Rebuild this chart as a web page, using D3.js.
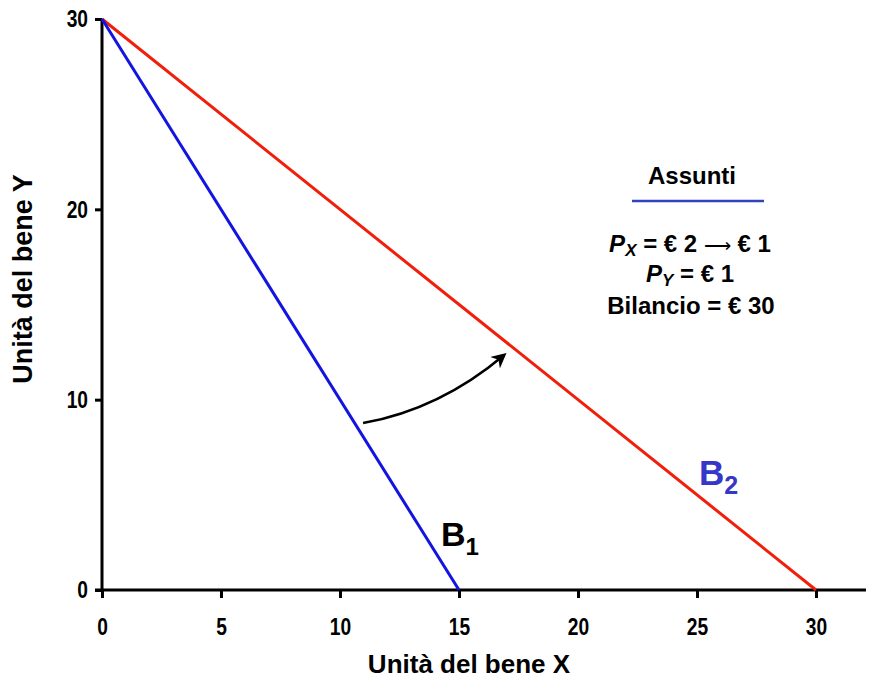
<!DOCTYPE html>
<html><head><meta charset="utf-8">
<script src="https://cdn.jsdelivr.net/npm/d3@7"></script>
<style>
body{margin:0;background:#fff;}
text{font-family:"Liberation Sans",Arial,sans-serif;font-weight:bold;}
</style></head>
<body><svg id="c" width="880" height="681"></svg>
<script>
const xTicks = [0,5,10,15,20,25,30];
const yTicks = [0,10,20,30];
const budget1 = [{x:0,y:30},{x:15,y:0}];   // B1: Px = 2
const budget2 = [{x:0,y:30},{x:30,y:0}];   // B2: Px = 1
const arrowPts = [{x:10.97,y:8.77},{x:14.2,y:9.5},{x:16.9,y:12.35}];
const assumptions = ["Assunti","P_X = € 2 ⟶ € 1","P_Y = € 1","Bilancio = € 30"];
const xMaxAxis = 32.1;

const svg = d3.select("#c");
const x = d3.scaleLinear().domain([0,30]).range([102,816]);
const y = d3.scaleLinear().domain([0,30]).range([590,19]);
const squeeze = 0.8;

// axes
const gx = svg.append("g").attr("transform",`translate(0,${y(0)})`)
  .call(d3.axisBottom(x).tickValues(xTicks).tickSize(8).tickPadding(20).tickSizeOuter(0));
gx.select(".domain").remove();
gx.append("line").attr("x1",x(0)-7).attr("x2",x(xMaxAxis)).attr("stroke","#000").attr("stroke-width",3);
gx.selectAll(".tick line").attr("stroke","#000").attr("stroke-width",3);
gx.selectAll(".tick text").attr("fill","#000").style("font-size","24px")
  .attr("transform",`scale(${squeeze},1)`);

const gy = svg.append("g").attr("transform",`translate(${x(0)},0)`)
  .call(d3.axisLeft(y).tickValues(yTicks).tickSize(7).tickPadding(8).tickSizeOuter(0));
gy.select(".domain").remove();
gy.append("line").attr("y1",y(0)).attr("y2",y(30)).attr("stroke","#000").attr("stroke-width",3);
gy.selectAll(".tick line").attr("stroke","#000").attr("stroke-width",3);
gy.selectAll(".tick text").attr("fill","#000").style("font-size","24px")
  .attr("x",-14/squeeze).attr("transform",`scale(${squeeze},1)`);

svg.append("text").attr("x",469).attr("y",673).attr("text-anchor","middle")
  .style("font-size","26px").text("Unità del bene X");
svg.append("text").attr("transform",`translate(32,279) rotate(-90)`).attr("text-anchor","middle")
  .style("font-size","27px").text("Unità del bene Y");

const line = d3.line().x(d=>x(d.x)).y(d=>y(d.y));
svg.append("path").datum(budget2).attr("d",line).attr("fill","none").attr("stroke","#f01e0a").attr("stroke-width",3);
svg.append("path").datum(budget1).attr("d",line).attr("fill","none").attr("stroke","#1414e0").attr("stroke-width",3);

// arrow
svg.append("defs").append("marker").attr("id","ah").attr("viewBox","0 0 10 10").attr("refX",8).attr("refY",5)
  .attr("markerWidth",6).attr("markerHeight",6).attr("orient","auto").attr("markerUnits","strokeWidth")
  .append("path").attr("d","M0,0 L10,5 L0,10 L3,5 Z").attr("fill","#000");
const [a0,a1,a2] = arrowPts;
svg.append("path").attr("d",`M${x(a0.x)},${y(a0.y)} Q${x(a1.x)},${y(a1.y)} ${x(a2.x)},${y(a2.y)}`)
  .attr("fill","none").attr("stroke","#000").attr("stroke-width",2.5).attr("marker-end","url(#ah)");

// labels
const b1 = svg.append("text").attr("x",441).attr("y",546).style("font-size","34px").attr("fill","#000");
b1.append("tspan").text("B");
b1.append("tspan").attr("dy",9).style("font-size","24px").text("1");
const b2 = svg.append("text").attr("x",699).attr("y",485).style("font-size","35px").attr("fill","#3636c8");
b2.append("tspan").text("B");
b2.append("tspan").attr("dy",9).style("font-size","25px").text("2");

// assumptions
const cx = 690;
svg.append("text").attr("x",cx+2).attr("y",184).attr("text-anchor","middle").style("font-size","24px").text(assumptions[0]);
svg.append("line").attr("x1",632).attr("x2",764).attr("y1",201).attr("y2",201).attr("stroke","#3344bb").attr("stroke-width",2.5);
function sub(t, yy){
  const parts = t.split("_");
  const el = svg.append("text").attr("x",cx).attr("y",yy).attr("text-anchor","middle").style("font-size","24px");
  el.append("tspan").style("font-style","italic").text("P");
  el.append("tspan").attr("dy",4).style("font-size","17px").style("font-style","italic").text(parts[1][0]);
  const rest = parts[1].slice(1).split("⟶");
  el.append("tspan").attr("dy",-4).text(rest[0]);
  if (rest.length > 1) {
    el.append("tspan").style("font-weight","normal").style("font-size","19px").text("⟶");
    el.append("tspan").text(rest[1]);
  }
}
sub(assumptions[1],252);
sub(assumptions[2],282);
svg.append("text").attr("x",cx+1).attr("y",314).attr("text-anchor","middle").style("font-size","24px").text(assumptions[3]);
</script></body></html>
